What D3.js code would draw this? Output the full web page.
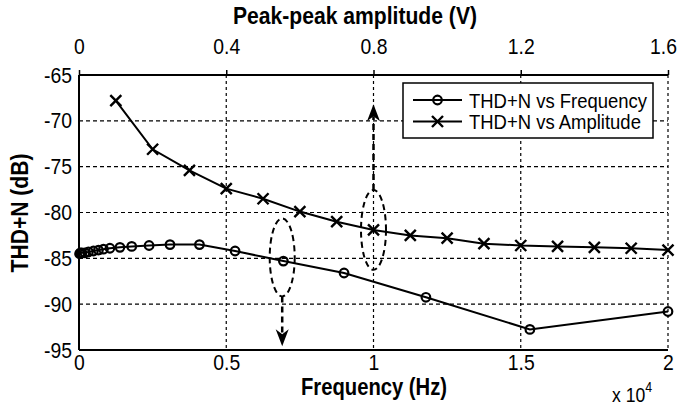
<!DOCTYPE html>
<html>
<head>
<meta charset="utf-8">
<script src="https://cdn.jsdelivr.net/npm/d3@7"></script>
<style>
  html, body { margin: 0; padding: 0; background: #fff; }
  text { font-family: "Liberation Sans", Arial, sans-serif; fill: #000; }
</style>
</head>
<body>
<script>
// ---------- DATA ----------
const freqHz = [20, 50, 100, 200, 320, 490, 660, 830, 1050, 1390, 1790, 2380, 3090, 4090, 5300, 6940, 9000, 11780, 15310, 20000];
const thdFreq = [-84.5, -84.4, -84.4, -84.4, -84.3, -84.2, -84.1, -84.0, -83.9, -83.8, -83.7, -83.6, -83.5, -83.5, -84.2, -85.3, -86.6, -89.25, -92.75, -90.8];

const amplitudeV = [0.1, 0.2, 0.3, 0.4, 0.5, 0.6, 0.7, 0.8, 0.9, 1.0, 1.1, 1.2, 1.3, 1.4, 1.5, 1.6];
const thdAmp = [-67.8, -73.1, -75.4, -77.4, -78.5, -79.9, -81.0, -81.9, -82.5, -82.8, -83.4, -83.6, -83.7, -83.8, -83.9, -84.1];

const freqTicks = [0, 5000, 10000, 15000, 20000];
const freqTickLabels = ["0", "0.5", "1", "1.5", "2"];
const ampTicks = [0, 0.4, 0.8, 1.2, 1.6];
const ampTickLabels = ["0", "0.4", "0.8", "1.2", "1.6"];
const dbTicks = [-65, -70, -75, -80, -85, -90, -95];
const dbTickLabels = ["-65", "-70", "-75", "-80", "-85", "-90", "-95"];

const seriesNames = ["THD+N vs Frequency", "THD+N vs Amplitude"];
// annotation ellipses (frequency Hz, dB centre, dB half-height), arrow end in dB
const annFreq = [6900, 10000];
const annDb = [-84.9, -81.9];
const annHalfDb = [4.25, 4.35];
const annArrowEndDb = [-94.6, -68.2];

// ---------- LAYOUT ----------
const W = 679, H = 410;
const L = 79, R = 668, T = 75, B = 350;
const SX = 0.88; // horizontal text compression (narrow face look)
const FONT = '"Liberation Sans", Arial, sans-serif';

const svg = d3.select("body").append("svg").attr("width", W).attr("height", H);
svg.append("rect").attr("width", W).attr("height", H).attr("fill", "#fff");

const x = d3.scaleLinear().domain([0, 20000]).range([L, R]);
const xa = d3.scaleLinear().domain([0, 1.6]).range([L, R]);
const y = d3.scaleLinear().domain([-95, -65]).range([B, T]);

// helper: narrow text at a position
function ntext(parent, px, py, str, size, opts = {}) {
  const t = parent.append("text")
    .attr("transform", `translate(${px},${py})${opts.rotate ? ` rotate(${opts.rotate})` : ""} scale(${SX},1)`)
    .attr("font-size", size).attr("font-family", FONT)
    .attr("text-anchor", opts.anchor || "start");
  if (opts.bold) t.attr("font-weight", "bold");
  if (opts.dy) t.attr("dy", opts.dy);
  t.text(str);
  return t;
}

// grid
const grid = svg.append("g").attr("stroke", "#000").attr("fill", "none");
grid.selectAll("line.v").data(freqTicks.slice(1)).enter().append("line")
  .attr("x1", d => x(d)).attr("x2", d => x(d)).attr("y1", T).attr("y2", B)
  .attr("stroke-width", 1.2).attr("stroke-dasharray", "3,3");
grid.selectAll("line.h").data(dbTicks.slice(1, -1)).enter().append("line")
  .attr("x1", L).attr("x2", R).attr("y1", d => y(d)).attr("y2", d => y(d))
  .attr("stroke-width", 1.2).attr("stroke-dasharray", "4,3");

// axes via d3
const fontTick = 22;
const axB = svg.append("g").attr("transform", `translate(0,${B})`)
  .call(d3.axisBottom(x).tickValues(freqTicks).tickFormat((d, i) => freqTickLabels[i]).tickSize(0).tickPadding(4));
const axT = svg.append("g").attr("transform", `translate(0,${T})`)
  .call(d3.axisTop(xa).tickValues(ampTicks).tickFormat((d, i) => ampTickLabels[i]).tickSize(5).tickPadding(16));
const axL = svg.append("g").attr("transform", `translate(${L},0)`)
  .call(d3.axisLeft(y).tickValues(dbTicks).tickFormat((d, i) => dbTickLabels[i]).tickSize(0).tickPadding(7));
[axB, axT, axL].forEach(a => {
  a.select(".domain").remove();
  a.selectAll("text").attr("font-size", fontTick).attr("font-family", FONT).attr("fill", "#000")
    .attr("transform", `scale(${SX},1)`);
  a.selectAll("line").attr("stroke", "#000").attr("stroke-width", 1.5);
});
axL.selectAll("text").attr("x", -7 / SX);
// keep the last top label inside the picture
axT.selectAll("text").filter(d => d === 1.6).attr("x", -5 / SX);

// frame
const frame = svg.append("g").attr("stroke", "#000").attr("stroke-width", 2);
frame.append("line").attr("x1", L).attr("x2", R).attr("y1", T).attr("y2", T);
frame.append("line").attr("x1", L).attr("x2", R).attr("y1", B).attr("y2", B);
frame.append("line").attr("x1", L).attr("x2", L).attr("y1", T).attr("y2", B);

// series
const freqData = freqHz.map((f, i) => ({ px: x(f), py: y(thdFreq[i]) }));
const ampData = amplitudeV.map((a, i) => ({ px: xa(a), py: y(thdAmp[i]) }));
const line = d3.line().x(d => d.px).y(d => d.py);

svg.append("path").datum(freqData).attr("d", line).attr("fill", "none").attr("stroke", "#000").attr("stroke-width", 2);
svg.append("path").datum(ampData).attr("d", line).attr("fill", "none").attr("stroke", "#000").attr("stroke-width", 2);

const xMark = (cx, cy, s) => `M${cx - s},${cy - s}L${cx + s},${cy + s}M${cx - s},${cy + s}L${cx + s},${cy - s}`;

svg.append("g").selectAll("circle").data(freqData).enter().append("circle")
  .attr("cx", d => d.px).attr("cy", d => d.py).attr("r", 4.3)
  .attr("fill", "none").attr("stroke", "#000").attr("stroke-width", 2.2);
svg.append("g").selectAll("path").data(ampData).enter().append("path")
  .attr("d", d => xMark(d.px, d.py, 5.5))
  .attr("fill", "none").attr("stroke", "#000").attr("stroke-width", 2.4);

// annotations
annFreq.forEach((f, i) => {
  const cx = x(f), cy = y(annDb[i]);
  const ry = Math.abs(y(annDb[i] + annHalfDb[i]) - cy);
  const rx = 12.5;
  svg.append("ellipse").attr("cx", cx).attr("cy", cy).attr("rx", rx).attr("ry", ry)
    .attr("fill", "none").attr("stroke", "#000").attr("stroke-width", 2).attr("stroke-dasharray", "6,4");
  const down = annArrowEndDb[i] < annDb[i];
  const yStart = down ? cy + ry : cy - ry;
  const yEnd = y(annArrowEndDb[i]);
  const dir = down ? 1 : -1;
  svg.append("line").attr("x1", cx).attr("x2", cx).attr("y1", yStart).attr("y2", yEnd - dir * 12)
    .attr("stroke", "#000").attr("stroke-width", 2.5).attr("stroke-dasharray", "6,4");
  svg.append("path")
    .attr("d", `M${cx},${yEnd}L${cx - 6.5},${yEnd - dir * 17}L${cx},${yEnd - dir * 12}L${cx + 6.5},${yEnd - dir * 17}Z`)
    .attr("fill", "#000");
});

// legend
const lg = svg.append("g");
lg.append("rect").attr("x", 403).attr("y", 83).attr("width", 250).attr("height", 55)
  .attr("fill", "#fff").attr("stroke", "#000").attr("stroke-width", 1.5);
const legY = [100, 121.5];
seriesNames.forEach((name, i) => {
  lg.append("line").attr("x1", 413).attr("x2", 462).attr("y1", legY[i]).attr("y2", legY[i])
    .attr("stroke", "#000").attr("stroke-width", 2);
  if (i === 0) {
    lg.append("circle").attr("cx", 437.5).attr("cy", legY[i]).attr("r", 4.3)
      .attr("fill", "none").attr("stroke", "#000").attr("stroke-width", 2.2);
  } else {
    lg.append("path").attr("d", xMark(437.5, legY[i], 5.5)).attr("stroke", "#000").attr("stroke-width", 2.4);
  }
  ntext(lg, 469, legY[i], name, 21, { dy: "0.36em" });
});

// titles
ntext(svg, 355, 24, "Peak-peak amplitude (V)", 24, { anchor: "middle", bold: true });
ntext(svg, 374, 395, "Frequency (Hz)", 23, { anchor: "middle", bold: true });
ntext(svg, 28, 213, "THD+N (dB)", 24, { anchor: "middle", bold: true, rotate: -90 });

// exponent
const ex = ntext(svg, 612, 402, "", 20);
ex.append("tspan").text("x 10");
ex.append("tspan").attr("font-size", 14).attr("dy", -10).text("4");
</script>
</body>
</html>
